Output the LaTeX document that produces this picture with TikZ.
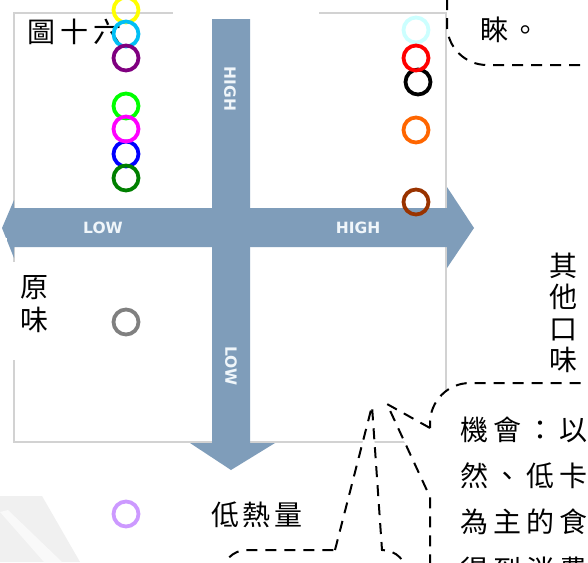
\documentclass[tikz,border=0pt]{standalone}
\usepackage{fontspec}
\newfontfamily\cjkfont{Noto Sans CJK TC}
\newfontfamily\labfont{DejaVu Sans}
\definecolor{axiscol}{RGB}{127,157,186}
\definecolor{labcol}{RGB}{240,246,250}
\definecolor{boxgray}{RGB}{210,210,210}
\definecolor{swooshA}{RGB}{240,240,240}
\definecolor{swooshB}{RGB}{249,249,249}
\definecolor{cYellow}{RGB}{255,255,0}
\definecolor{cCyan}{RGB}{0,191,245}
\definecolor{cPurple}{RGB}{128,0,128}
\definecolor{cLime}{RGB}{0,255,0}
\definecolor{cMagenta}{RGB}{255,0,255}
\definecolor{cBlue}{RGB}{0,0,255}
\definecolor{cDkGreen}{RGB}{0,128,0}
\definecolor{cGray}{RGB}{128,128,128}
\definecolor{cLavender}{RGB}{204,153,255}
\definecolor{cLtCyan}{RGB}{204,255,255}
\definecolor{cRed}{RGB}{255,0,0}
\definecolor{cOrange}{RGB}{255,102,0}
\definecolor{cBrown}{RGB}{153,51,0}
\newcommand\cjkgap{\kern5pt}
\newcommand\cjkgapb{\kern3.5pt}
\tikzset{
  ring/.style={circle, draw=#1, line width=3.8pt, minimum size=25pt, inner sep=0pt},
  cjkt/.style={font=\cjkfont\fontsize{28}{31.3}\selectfont, inner sep=0pt, text=black},
  cjkv/.style={font=\cjkfont\fontsize{28}{33}\selectfont, inner sep=0pt, align=center, text=black},
  axlab/.style={font=\labfont\bfseries\fontsize{15.5}{15.5}\selectfont, text=labcol, inner sep=0pt},
  callout/.style={draw=black, fill=white, line width=2pt, dash pattern=on 11pt off 8pt},
  boxline/.style={draw=boxgray, line width=1.8pt},
}
\begin{document}
\begin{tikzpicture}[x=1pt,y=-1pt]
\useasboundingbox (0,0) rectangle (588,562);
\fill[white] (0,0) rectangle (588,562);

% background swoosh (bottom left)
\fill[swooshA] (0,496) -- (42,496) -- (80,562) -- (0,562) -- cycle;
\fill[swooshB] (0,512) -- (8,510) -- (62,562) -- (44,562) -- cycle;

% chart frame
\draw[boxline, fill=white] (14,13) rectangle (446,442);

% axes arrows
\fill[axiscol] (2,228) -- (14,200) -- (14,208) -- (447,208) -- (447,187)
  -- (474,228) -- (447,268) -- (447,247) -- (14,247) -- (14,258) -- cycle;
\fill[axiscol] (212,19) -- (250,19) -- (250,443) -- (275,443) -- (231,470)
  -- (190,443) -- (212,443) -- cycle;

% axis labels
\node[axlab] (lowL) at (103,228) {LOW};
\node[axlab] (highR) at (358,228) {HIGH};
\node[axlab, rotate=-90] (highT) at (230,89) {HIGH};
\node[axlab, rotate=-90] (lowB) at (231,366) {LOW};

% white covers
\fill[white] (173,-2) rectangle (319,19);
\fill[white] (0,262) rectangle (78,360);
\fill[white] (0,238) rectangle (7,262);

% texts
\node[cjkt, anchor=west] (title) at (27,32) {圖\cjkgap 十\cjkgap 六};
\node[cjkv] (orig) at (34,304.5) {原\\味};
\node[cjkv, font=\cjkfont\fontsize{28}{31.3}\selectfont] (other) at (563,313) {其\\他\\口\\味};
\node[cjkt, anchor=west] (lowcal) at (211,515) {低\cjkgapb 熱\cjkgapb 量};

% rings, left column
\node[ring=cYellow] (r1) at (126,10) {};
\node[ring=cCyan] (r2) at (126,34) {};
\node[ring=cPurple] (r3) at (126,58) {};
\node[ring=cLime] (r4) at (126,106) {};
\node[ring=cBlue] (r6) at (126,154) {};
\node[ring=cDkGreen] (r7) at (126,178) {};
\node[ring=cMagenta] (r5) at (126,129) {};
\node[ring=cGray] (r8) at (126,322) {};
\node[ring=cLavender] (r9) at (126,514) {};

% rings, right column
\node[ring=cLtCyan] (s1) at (416,30) {};
\node[ring=black] (s3) at (418,82) {};
\node[ring=cRed] (s2) at (416,58) {};
\node[ring=cOrange] (s4) at (416,130) {};
\node[ring=cBrown] (s5) at (416,202) {};

% top-right callout
\draw[callout] (447,-20) -- (447,25) .. controls (447,47) and (465,65) .. (487,65)
  -- (620,65) -- (620,-20) -- cycle;
\node[cjkt, anchor=west] (c1) at (480,30) {睞\kern3pt 。};

% bottom-centre callout
\draw[callout] (335,550) -- (372,406) -- (382,550)
  .. controls (396,550) and (407,561) .. (407,575) -- (407,620) -- (222,620)
  -- (222,575) .. controls (222,561) and (233,550) .. (247,550) -- cycle;

% bottom-right callout
\draw[callout] (430,428) -- (387,404) -- (430,497) -- (430,620) -- (620,620)
  -- (620,383) -- (470,383) .. controls (448,383) and (430,401) .. (430,423) -- cycle;
\node[cjkt, anchor=west] (t1) at (460,430) {機\cjkgap 會\cjkgap ：\cjkgap 以};
\node[cjkt, anchor=west] (t2) at (460,476) {然\cjkgap 、\cjkgap 低\cjkgap 卡};
\node[cjkt, anchor=west] (t3) at (460,522) {為\cjkgap 主\cjkgap 的\cjkgap 食};
\node[cjkt, anchor=west] (t4) at (460,570) {得\cjkgap 到\cjkgap 消\cjkgap 費};
\end{tikzpicture}
\end{document}
